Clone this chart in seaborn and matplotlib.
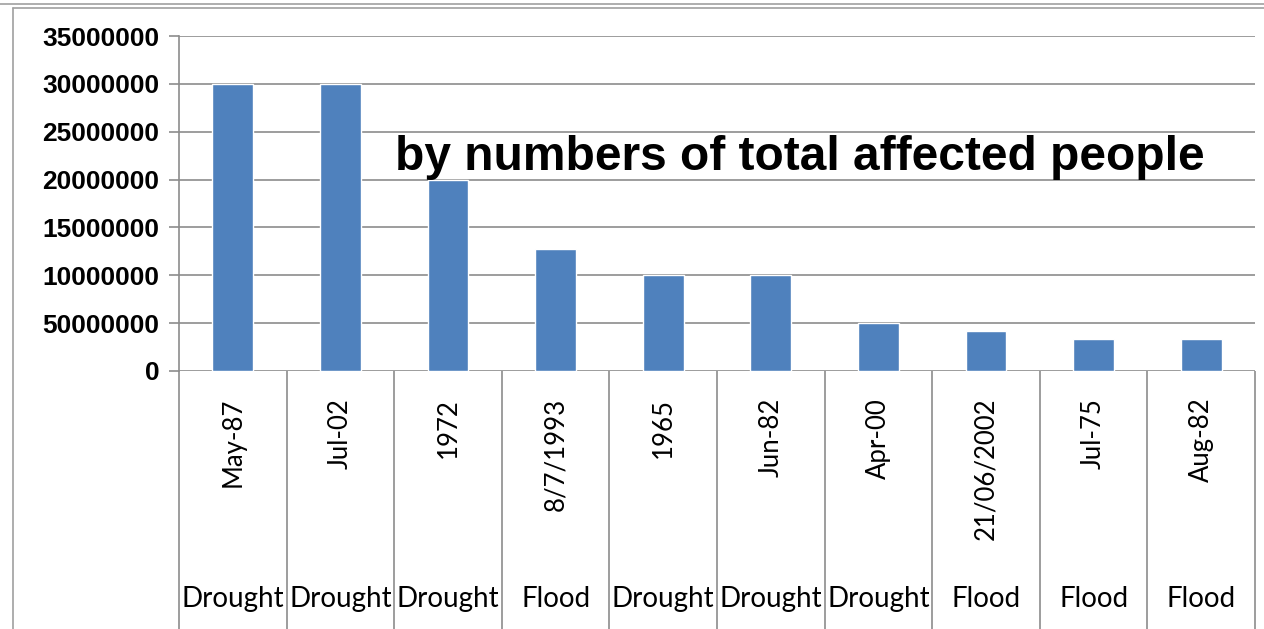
import matplotlib
matplotlib.use("Agg")
import matplotlib.pyplot as plt
import seaborn as sns
import pandas as pd

# data
dates = ["May-87", "Jul-02", "1972", "8/7/1993", "1965",
         "Jun-82", "Apr-00", "21/06/2002", "Jul-75", "Aug-82"]
hazards = ["Drought", "Drought", "Drought", "Flood", "Drought",
           "Drought", "Drought", "Flood", "Flood", "Flood"]
affected = [30000000, 30000000, 20000000, 12750000, 10000000,
            10000000, 5000000, 4150000, 3300000, 3300000]
ytick_vals = [0, 5000000, 10000000, 15000000, 20000000, 25000000, 30000000, 35000000]
ytick_text = ["0", "50000000", "10000000", "15000000", "20000000",
              "25000000", "30000000", "35000000"]

df = pd.DataFrame({"date": dates, "hazard": hazards, "affected": affected})

sns.set_style("white")
plt.rcParams["text.color"] = "black"
plt.rcParams["ytick.labelcolor"] = "black"
W, H = 1264, 629
fig = plt.figure(figsize=(W / 100, H / 100), dpi=100)
ax = fig.add_axes([179 / W, (H - 371) / H, (1255 - 179) / W, (371 - 36) / H])

sns.barplot(data=df, x="date", y="affected", color="#4F81BD", width=0.38,
            saturation=1, ax=ax)

grid_c = "#8C8C8C"
ax.set_ylim(0, 35000000)
ax.set_xlim(-0.5, len(dates) - 0.5)
ax.set_yticks(ytick_vals)
ax.set_yticklabels(ytick_text, fontsize=19, fontweight="bold",
                   family=["Liberation Sans", "DejaVu Sans"], color="black")
ax.tick_params(axis="y", length=7, color=grid_c, width=1.2, pad=7, left=True)
ax.set_xticks([])
ax.set_xlabel("")
ax.set_ylabel("")
for v in ytick_vals:
    ax.axhline(v, color=grid_c, lw=1.2, zorder=0)
for s in ["top", "right", "bottom"]:
    ax.spines[s].set_visible(False)
ax.spines["left"].set_color(grid_c)
ax.spines["left"].set_linewidth(1.2)

# multi-level category axis below the bars
xt = ax.get_xaxis_transform()
ax.vlines([i - 0.5 for i in range(len(dates) + 1)], -0.78, 0, transform=xt,
          color=grid_c, lw=1.2, clip_on=False)
for i, (d, h) in enumerate(zip(dates, hazards)):
    ax.text(i, -0.08, d, transform=xt, rotation=90, ha="center", va="top",
            fontsize=18.5, family=["Lato", "DejaVu Sans"])
    ax.text(i, -0.68, h, transform=xt, ha="center", va="center",
            fontsize=20, family=["Lato", "DejaVu Sans"])

ax.text(800 / W, (H - 157) / H, "by numbers of total affected people",
        transform=fig.transFigure, ha="center", va="center", fontsize=34.5,
        fontweight="bold", family=["Liberation Sans", "DejaVu Sans"])

# outer chart frame
fig.add_artist(plt.Line2D([0, 1], [(H - 4) / H] * 2, color="#A0A0A0", lw=1.2))
fig.add_artist(plt.Line2D([13 / W] * 2, [0, (H - 8) / H], color="#A0A0A0", lw=1.2))
fig.add_artist(plt.Line2D([13 / W, 1], [(H - 8) / H] * 2, color="#A0A0A0", lw=1.2))

fig.savefig("out.png", dpi=100)
